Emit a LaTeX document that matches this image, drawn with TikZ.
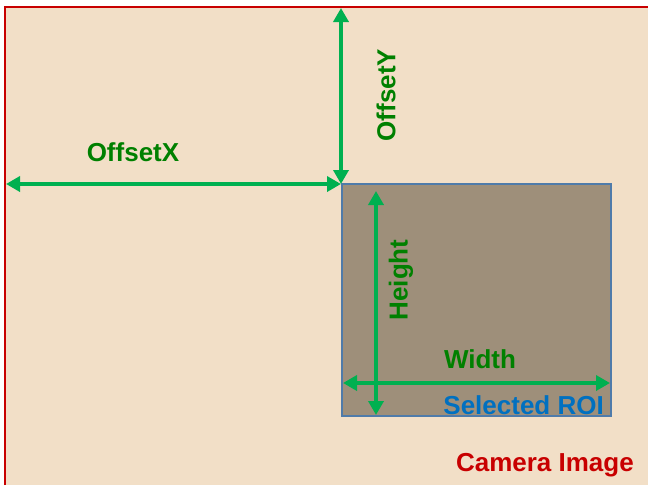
\documentclass[tikz,border=0pt]{standalone}
\usepackage{fontspec}
\setmainfont{Liberation Sans}
\usetikzlibrary{arrows.meta}
\definecolor{camfill}{RGB}{242,223,199}
\definecolor{camred}{RGB}{200,0,0}
\definecolor{roifill}{RGB}{158,143,122}
\definecolor{roiedge}{RGB}{79,123,170}
\definecolor{arrowgreen}{RGB}{0,176,80}
\definecolor{textgreen}{RGB}{0,128,0}
\definecolor{roiblue}{RGB}{0,112,192}
\begin{document}
\begin{tikzpicture}[x=1pt,y=-1pt,
  dim/.style={arrowgreen,line width=4pt,{Triangle[length=14pt,width=15pt]}-{Triangle[length=14pt,width=15pt]}},
  lbl/.style={font=\fontsize{26}{31}\selectfont\bfseries,inner sep=0pt}]
\useasboundingbox (0,0) rectangle (648,485);
\fill[white] (0,0) rectangle (648,485);
% camera image
\fill[camfill] (5,7) rectangle (648,485);
\draw[camred,line width=2pt] (5,485) -- (5,7) -- (648,7);
% selected ROI
\filldraw[fill=roifill,draw=roiedge,line width=1.5pt] (342,184) rectangle (611,416);
% end points
\coordinate (top) at (341,8);
\coordinate (corner) at (341,184);
\coordinate (left) at (6,184);
\coordinate (htop) at (376,191);
\coordinate (hbot) at (376,415);
\coordinate (wl) at (343,383);
\coordinate (wr) at (610,383);
% arrows
\draw[dim] (top) -- (corner);
\draw[dim] (left) -- (corner);
\draw[dim] (htop) -- (hbot);
\draw[dim] (wl) -- (wr);
% labels
\node[lbl,textgreen] (offx) at (133,152) {OffsetX};
\node[lbl,textgreen,rotate=90] (offy) at (386,95) {OffsetY};
\node[lbl,textgreen,rotate=90] (hgt) at (401,280) {Height};
\node[lbl,textgreen] (wid) at (480,359) {Width};
\node[lbl,roiblue,anchor=east] (roi) at (604,405) {Selected ROI};
\node[lbl,camred,anchor=east] (cam) at (634,465) {Camera Image};
\end{tikzpicture}
\end{document}
